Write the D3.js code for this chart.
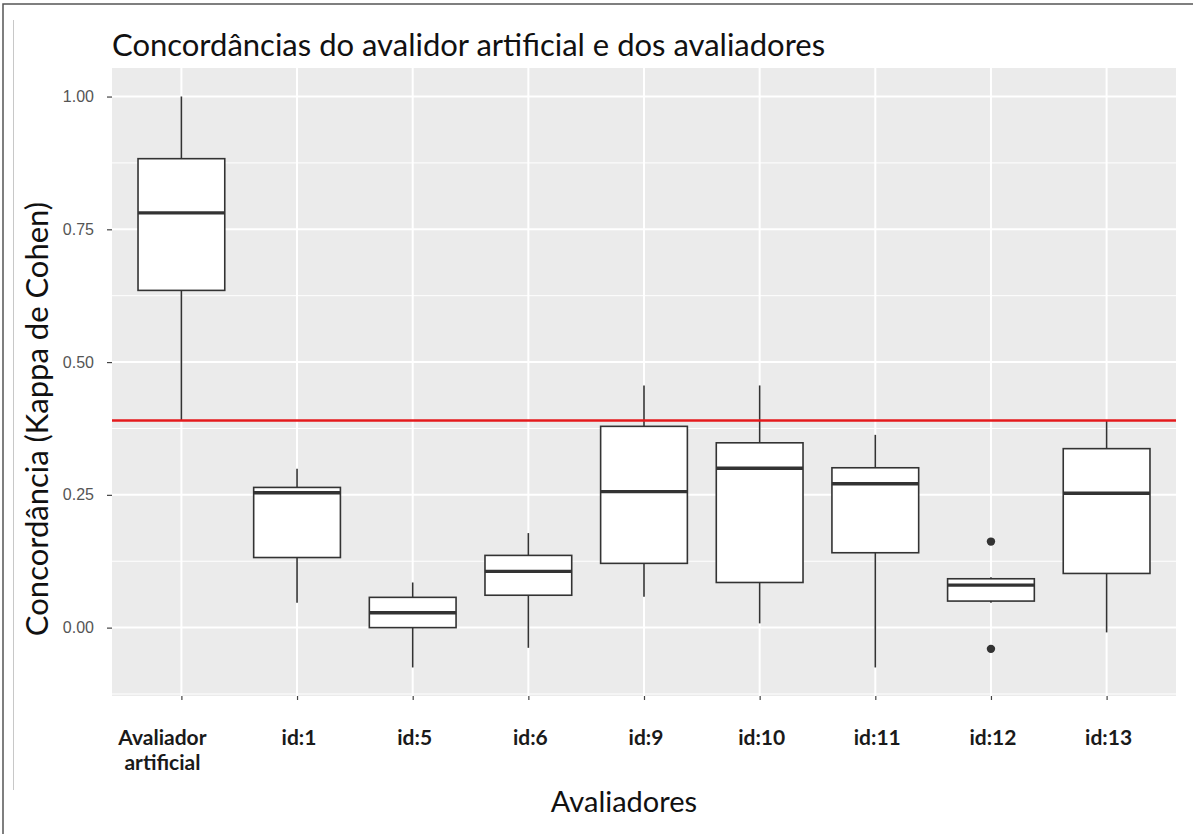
<!DOCTYPE html>
<html>
<head>
<meta charset="utf-8">
<script src="https://cdn.jsdelivr.net/npm/d3@7"></script>
<style>
  body { margin: 0; background: #fff; }
  svg { display: block; }
</style>
</head>
<body>
<svg id="chart"></svg>
<script>
// values
const categories = ["Avaliador artificial", "id:1", "id:5", "id:6", "id:9", "id:10", "id:11", "id:12", "id:13"];
const whiskerLow  = [0.390, 0.047, -0.075, -0.038, 0.058, 0.008, -0.075, 0.047, -0.009];
const q1          = [0.635, 0.132, 0.000, 0.061, 0.121, 0.085, 0.141, 0.050, 0.102];
const medians     = [0.781, 0.254, 0.028, 0.106, 0.256, 0.300, 0.271, 0.080, 0.253];
const q3          = [0.883, 0.264, 0.057, 0.136, 0.379, 0.348, 0.301, 0.092, 0.337];
const whiskerHigh = [1.000, 0.299, 0.085, 0.178, 0.456, 0.456, 0.363, 0.095, 0.390];
const outlierCats = ["id:12", "id:12"];
const outlierVals = [0.162, -0.040];
const threshold = 0.39;
const yTicks = [0, 0.25, 0.5, 0.75, 1];
const yMinor = [-0.125, 0.125, 0.375, 0.625, 0.875];

const width = 1193, height = 834;
const panel = { left: 112, right: 1176, top: 68, bottom: 696 };

const boxes = categories.map((c, i) => ({
    cat: c, lo: whiskerLow[i], q1: q1[i], med: medians[i], q3: q3[i], hi: whiskerHigh[i]
}));
const outliers = outlierCats.map((c, i) => ({ cat: c, v: outlierVals[i] }));

const svg = d3.select("#chart").attr("width", width).attr("height", height);

// frame of the screenshot
svg.append("path")
    .attr("d", `M3,${height} L3,4 L${width},4`)
    .attr("fill", "none").attr("stroke", "#555").attr("stroke-width", 1.5);
svg.append("line")
    .attr("x1", 13.5).attr("x2", 13.5).attr("y1", 20).attr("y2", 790)
    .attr("stroke", "#c8c8c8").attr("stroke-width", 1);

// y domain with ggplot style 5% expansion
const allVals = whiskerLow.concat(whiskerHigh, outlierVals);
const vMin = d3.min(allVals), vMax = d3.max(allVals);
const pad = (vMax - vMin) * 0.05;

const y = d3.scaleLinear()
    .domain([vMin - pad, vMax + pad])
    .range([panel.bottom, panel.top]);

const x = d3.scalePoint()
    .domain(categories)
    .range([panel.left, panel.right])
    .padding(0.6);

const boxW = x.step() * 0.75;

// panel
svg.append("rect")
    .attr("x", panel.left).attr("y", panel.top)
    .attr("width", panel.right - panel.left).attr("height", panel.bottom - panel.top)
    .attr("fill", "#ebebeb");

const grid = svg.append("g");
grid.selectAll(".minor")
    .data(yMinor.filter(v => y(v) > panel.top && y(v) < panel.bottom))
    .join("line")
    .attr("x1", panel.left).attr("x2", panel.right)
    .attr("y1", d => y(d)).attr("y2", d => y(d))
    .attr("stroke", "#fff").attr("stroke-width", 1);
grid.selectAll(".major")
    .data(yTicks)
    .join("line")
    .attr("x1", panel.left).attr("x2", panel.right)
    .attr("y1", d => y(d)).attr("y2", d => y(d))
    .attr("stroke", "#fff").attr("stroke-width", 2);
grid.selectAll(".vert")
    .data(categories)
    .join("line")
    .attr("x1", d => x(d)).attr("x2", d => x(d))
    .attr("y1", panel.top).attr("y2", panel.bottom)
    .attr("stroke", "#fff").attr("stroke-width", 2);

// axes
const yAxis = svg.append("g")
    .attr("transform", `translate(${panel.left},0)`)
    .call(d3.axisLeft(y).tickValues(yTicks).tickFormat(d3.format(".2f")).tickSize(5).tickPadding(13));
yAxis.select(".domain").remove();
yAxis.selectAll("line").attr("stroke", "#444").attr("stroke-width", 1.2);
yAxis.selectAll("text")
    .attr("fill", "#555")
    .attr("font-family", "'Liberation Sans', Arial, sans-serif")
    .attr("font-size", "16px");

const xAxis = svg.append("g")
    .attr("transform", `translate(0,${panel.bottom})`)
    .call(d3.axisBottom(x).tickSize(4).tickFormat(""));
xAxis.select(".domain").remove();
xAxis.selectAll("line").attr("stroke", "#444").attr("stroke-width", 1.2);

const labelFont = "Lato, 'Open Sans', sans-serif";
const xLabels = svg.append("g");
categories.forEach(c => {
    const lines = c === "Avaliador artificial" ? ["Avaliador", "artificial"] : [c];
    const shift = lines.length > 1 ? -19 : 2;
    lines.forEach((l, i) => {
        xLabels.append("text")
            .attr("x", x(c) + shift)
            .attr("y", 745 + i * 25)
            .attr("text-anchor", "middle")
            .attr("font-family", labelFont)
            .attr("font-weight", 700)
            .attr("font-size", "21px")
            .attr("fill", "#1a1a1a")
            .text(l);
    });
});

// boxes
const g = svg.append("g");
g.selectAll(".whisker")
    .data(boxes)
    .join("line")
    .attr("x1", d => x(d.cat)).attr("x2", d => x(d.cat))
    .attr("y1", d => y(d.lo)).attr("y2", d => y(d.hi))
    .attr("stroke", "#333").attr("stroke-width", 1.6);

g.selectAll(".box")
    .data(boxes)
    .join("rect")
    .attr("x", d => x(d.cat) - boxW / 2)
    .attr("y", d => y(d.q3))
    .attr("width", boxW)
    .attr("height", d => y(d.q1) - y(d.q3))
    .attr("fill", "#fff").attr("stroke", "#333").attr("stroke-width", 1.6);

g.selectAll(".median")
    .data(boxes)
    .join("line")
    .attr("x1", d => x(d.cat) - boxW / 2).attr("x2", d => x(d.cat) + boxW / 2)
    .attr("y1", d => y(d.med)).attr("y2", d => y(d.med))
    .attr("stroke", "#333").attr("stroke-width", 3.4);

g.selectAll(".outlier")
    .data(outliers)
    .join("circle")
    .attr("cx", d => x(d.cat)).attr("cy", d => y(d.v))
    .attr("r", 4.2).attr("fill", "#333");

// threshold line
svg.append("line")
    .attr("x1", panel.left).attr("x2", panel.right)
    .attr("y1", y(threshold)).attr("y2", y(threshold))
    .attr("stroke", "#e41a1c").attr("stroke-width", 2.5);

// titles
svg.append("text")
    .attr("x", panel.left).attr("y", 56)
    .attr("font-family", labelFont)
    .attr("font-size", "31px")
    .attr("fill", "#111")
    .text("Concordâncias do avalidor artificial e dos avaliadores");

svg.append("text")
    .attr("x", 624).attr("y", 812)
    .attr("text-anchor", "middle")
    .attr("font-family", labelFont)
    .attr("font-size", "29px")
    .attr("fill", "#111")
    .text("Avaliadores");

svg.append("text")
    .attr("transform", `translate(48,${419}) rotate(-90)`)
    .attr("text-anchor", "middle")
    .attr("font-family", labelFont)
    .attr("font-size", "31px")
    .attr("fill", "#111")
    .text("Concordância (Kappa de Cohen)");
</script>
</body>
</html>
